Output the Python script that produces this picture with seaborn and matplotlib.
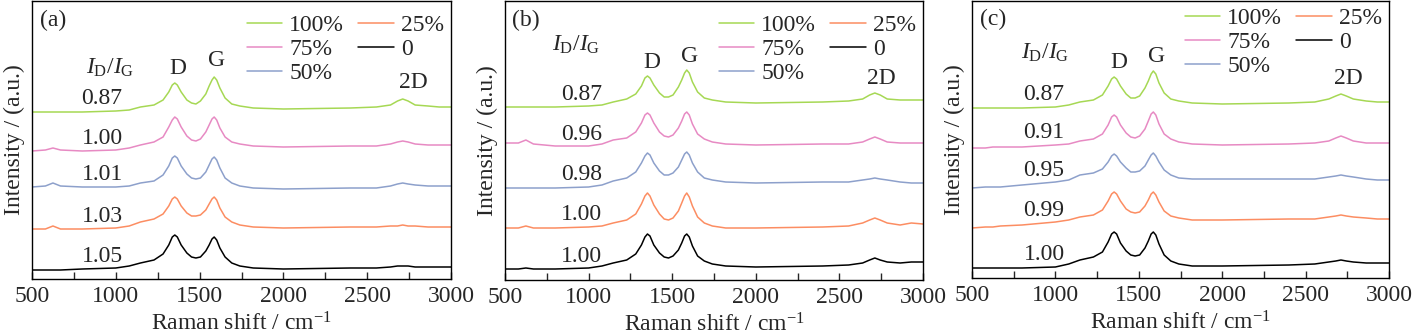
import matplotlib
matplotlib.use("Agg")
import matplotlib.pyplot as plt
import seaborn as sns
import pandas as pd
from matplotlib.ticker import MultipleLocator

# Raman shift sampling positions (cm^-1)
shift = [500, 580, 625, 670, 800, 1000, 1080,
         1147, 1228, 1282, 1316, 1337, 1352, 1367, 1390, 1424, 1452, 1478,
         1505, 1537, 1557, 1574, 1587, 1602, 1621, 1652, 1692, 1740,
         1820, 2000, 2400, 2555, 2639, 2681, 2712, 2744, 2786, 2863, 2930, 3000]

samples = ["100%", "75%", "50%", "25%", "0"]

# (a) stacked spectra, offset intensity (a.u.)
a_100 = [167, 167, 167, 167, 167, 168, 169,
         172, 174, 179, 187, 194, 196, 194, 187, 179, 176, 175,
         178, 185, 193, 199, 202, 199, 191, 181, 175, 173,
         171, 170, 171, 172, 174, 178, 180, 178, 174, 173, 172, 172]
a_75 = [128, 129, 131, 129, 128, 129, 131,
        134, 137, 142, 152, 159, 162, 160, 152, 143, 139, 138,
        140, 147, 154, 160, 162, 159, 151, 142, 137, 135,
        133, 132, 133, 133, 135, 137, 138, 137, 135, 134, 134, 134]
a_50 = [92, 93, 96, 93, 92, 92, 93,
        96, 98, 104, 113, 121, 123, 121, 113, 105, 101, 100,
        101, 107, 114, 120, 122, 119, 111, 101, 96, 93,
        91, 90, 91, 91, 93, 95, 96, 95, 94, 93, 93, 93]
a_25 = [50, 50, 53, 50, 50, 51, 53,
        57, 60, 65, 73, 80, 82, 80, 73, 66, 63, 63,
        64, 69, 75, 80, 82, 79, 71, 62, 57, 54,
        52, 51, 52, 52, 53, 53, 54, 53, 53, 52, 52, 52]
a_0 = [9, 9, 9, 9, 10, 11, 13,
       16, 19, 25, 34, 42, 44, 42, 34, 26, 22, 21,
       22, 28, 34, 40, 42, 39, 31, 22, 16, 13,
       11, 10, 11, 11, 12, 13, 13, 13, 12, 12, 12, 12]

# (b)
b_100 = [173, 173, 173, 173, 173, 174, 175,
         178, 181, 186, 194, 202, 204, 202, 195, 187, 183, 183,
         185, 193, 200, 207, 210, 207, 198, 188, 182, 180,
         178, 177, 178, 179, 181, 185, 187, 185, 181, 180, 180, 180]
b_75 = [137, 137, 140, 136, 134, 134, 136,
        140, 142, 148, 157, 165, 167, 165, 157, 148, 144, 143,
        145, 152, 159, 166, 168, 165, 156, 146, 141, 138,
        136, 135, 136, 136, 138, 141, 143, 141, 138, 137, 137, 137]
b_50 = [92, 92, 92, 92, 92, 93, 95,
        99, 102, 108, 117, 124, 127, 125, 117, 109, 105, 105,
        107, 113, 120, 126, 128, 125, 117, 108, 102, 100,
        98, 97, 98, 98, 100, 101, 102, 101, 100, 98, 97, 97]
b_25 = [52, 52, 54, 52, 52, 53, 54,
        57, 60, 66, 76, 84, 87, 84, 75, 66, 61, 60,
        62, 69, 77, 84, 87, 83, 74, 63, 57, 54,
        52, 52, 53, 54, 57, 60, 62, 60, 57, 55, 57, 56]
b_0 = [11, 11, 12, 11, 11, 12, 14,
       17, 20, 26, 35, 43, 46, 44, 35, 27, 23, 22,
       24, 30, 37, 44, 46, 43, 34, 24, 19, 16,
       14, 13, 14, 15, 17, 20, 22, 20, 18, 17, 18, 18]

# (c)
c_100 = [170, 170, 170, 170, 170, 171, 173,
         176, 178, 183, 192, 199, 201, 199, 192, 184, 180, 180,
         182, 190, 197, 204, 207, 204, 195, 185, 179, 177,
         175, 174, 175, 176, 179, 182, 184, 182, 179, 177, 176, 176]
c_75 = [130, 130, 131, 131, 131, 133, 134,
        137, 139, 144, 153, 161, 163, 161, 153, 145, 141, 140,
        142, 149, 157, 164, 166, 163, 154, 144, 139, 136,
        134, 133, 134, 135, 137, 140, 142, 140, 137, 135, 135, 135]
c_50 = [90, 91, 91, 91, 93, 96, 98,
        103, 105, 109, 116, 122, 124, 122, 116, 110, 106, 106,
        107, 112, 118, 123, 125, 122, 116, 108, 103, 100,
        99, 99, 99, 99, 101, 102, 103, 102, 101, 99, 98, 98]
c_25 = [50, 51, 51, 52, 53, 56, 58,
        61, 63, 68, 77, 84, 86, 84, 77, 69, 66, 65,
        66, 72, 78, 84, 86, 83, 76, 67, 62, 60,
        58, 58, 59, 59, 61, 62, 63, 62, 61, 60, 59, 59]
c_0 = [10, 10, 10, 10, 10, 11, 14,
       18, 21, 26, 36, 44, 46, 44, 35, 27, 23, 22,
       23, 30, 37, 44, 46, 43, 34, 23, 17, 14,
       12, 12, 13, 14, 16, 17, 18, 17, 16, 15, 15, 15]

# I_D/I_G ratios written next to each spectrum
ratios_a = ["0.87", "1.00", "1.01", "1.03", "1.05"]
ratios_b = ["0.87", "0.96", "0.98", "1.00", "1.00"]
ratios_c = ["0.87", "0.91", "0.95", "0.99", "1.00"]

sns.set_theme(style="ticks")
plt.rcParams["font.family"] = ["Liberation Serif", "DejaVu Serif"]
plt.rcParams["mathtext.fontset"] = "custom"
plt.rcParams["mathtext.rm"] = "Liberation Serif"
plt.rcParams["mathtext.it"] = "Liberation Serif:italic"
plt.rcParams["axes.linewidth"] = 1.0
FS = 17

pal = sns.color_palette("Set2")
colors = {"100%": pal[4], "75%": pal[3], "50%": pal[2], "25%": pal[1], "0": "black"}
i1000 = shift.index(1000)

fig = plt.figure(figsize=(14.14, 3.35), dpi=100)
W, H = 1414, 335

panels = [
    dict(name="(a)", series=[a_100, a_75, a_50, a_25, a_0], ratios=ratios_a,
         box=(32, 451, 0.5, 279), ratio_x=918, idig_xy=(965, 211),
         d_xy=(1371, 210), g_xy=(1604, 218), d2_xy=(2773, 197), leg_top=7),
    dict(name="(b)", series=[b_100, b_75, b_50, b_25, b_0], ratios=ratios_b,
         box=(505, 923, 0.5, 280), ratio_x=960, idig_xy=(925, 235),
         d_xy=(1379, 218), g_xy=(1601, 223), d2_xy=(2749, 202), leg_top=7),
    dict(name="(c)", series=[c_100, c_75, c_50, c_25, c_0], ratios=ratios_c,
         box=(972, 1389, 0.5, 278), ratio_x=932, idig_xy=(938, 225),
         d_xy=(1381, 216), g_xy=(1609, 221), d2_xy=(2754, 200), leg_top=0),
]

for p in panels:
    x0, x1, ytop, ybot = p["box"]
    ax = fig.add_axes([x0 / W, (H - ybot) / H, (x1 - x0) / W, (ybot - ytop) / H])
    rows = []
    for s, vals in zip(samples, p["series"]):
        for xv, yv in zip(shift, vals):
            rows.append({"shift": xv, "intensity": yv, "sample": s})
    df = pd.DataFrame(rows)
    sns.lineplot(data=df, x="shift", y="intensity", hue="sample", hue_order=samples,
                 palette=colors, estimator=None, sort=False, linewidth=1.1, ax=ax)
    ax.set_xlim(500, 3000)
    ax.set_ylim(0, ybot - ytop)
    ax.set_yticks([])
    ax.xaxis.set_major_locator(MultipleLocator(500))
    ax.xaxis.set_minor_locator(MultipleLocator(250))
    ax.tick_params(axis="x", which="both", direction="in", length=5, width=1.0,
                   labelsize=FS, pad=5, top=False)
    ax.set_xlabel("Raman shift / cm$^{-1}$", fontsize=FS, labelpad=4)
    ax.set_ylabel("Intensity / (a.u.)", fontsize=FS, labelpad=5)
    for sp in ax.spines.values():
        sp.set_visible(True)
        sp.set_color("black")

    handles, labels = ax.get_legend_handles_labels()
    ax.legend(handles, labels, loc="upper right",
              bbox_to_anchor=(1.0, 1.0 - p["leg_top"] / (ybot - ytop)),
              ncol=2, frameon=False, fontsize=FS, handlelength=1.5, handletextpad=0.3,
              columnspacing=0.6, labelspacing=0.1, borderaxespad=0.1, borderpad=0.2)

    ax.text(0.05, 0.93, p["name"], transform=ax.transAxes, fontsize=FS, ha="center", va="center")
    ax.text(p["idig_xy"][0], p["idig_xy"][1], r"$I_{\mathrm{D}}/I_{\mathrm{G}}$",
            fontsize=FS, ha="center", va="center")
    for r, vals in zip(p["ratios"], p["series"]):
        ax.text(p["ratio_x"], vals[i1000] + 12, r, fontsize=FS, ha="center", va="center")
    ax.text(*p["d_xy"], "D", fontsize=FS, ha="center", va="center")
    ax.text(*p["g_xy"], "G", fontsize=FS, ha="center", va="center")
    ax.text(*p["d2_xy"], "2D", fontsize=FS, ha="center", va="center")

fig.savefig("out.png", dpi=100)
